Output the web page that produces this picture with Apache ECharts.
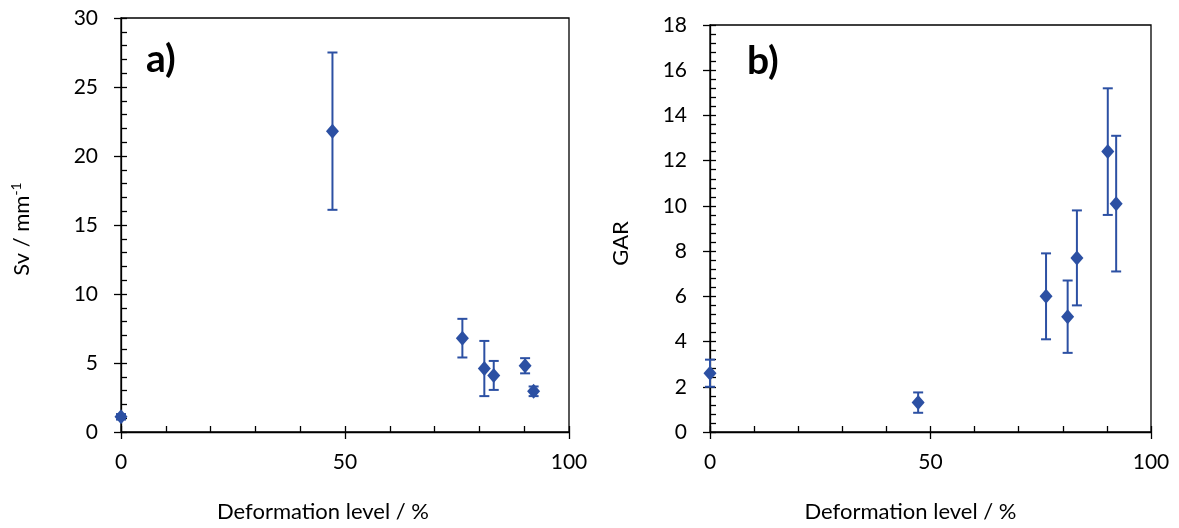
<!DOCTYPE html>
<html>
<head>
<meta charset="utf-8">
<script src="https://cdn.jsdelivr.net/npm/echarts@6/dist/echarts.min.js"></script>
<style>
html,body{margin:0;padding:0;background:#fff;}
#c{width:1179px;height:528px;}
</style>
</head>
<body>
<div id="c"></div>
<script>
// ---- data ----
const deformation = [0, 47.2, 76.2, 81.1, 83.2, 90.2, 92.1];
const sv = [1.1, 21.8, 6.8, 4.6, 4.1, 4.8, 2.95];
const svErr = [0.2, 5.7, 1.4, 2.0, 1.05, 0.55, 0.35];
const gar = [2.6, 1.3, 6.0, 5.1, 7.7, 12.4, 10.1];
const garErr = [0.6, 0.45, 1.9, 1.6, 2.1, 2.8, 3.0];
const xTicks = [0, 50, 100];
const svTicks = [0, 5, 10, 15, 20, 25, 30];
const garTicks = [0, 2, 4, 6, 8, 10, 12, 14, 16, 18];

const FONT = 'Lato';
const BLUE = '#2C50A3';
const chart = echarts.init(document.getElementById('c'));

function errData(y, e) {
  return deformation.map((x, i) => [x, y[i] - e[i], y[i] + e[i]]);
}
function errItem(params, api) {
  const x = api.value(0);
  const lo = api.coord([x, api.value(1)]);
  const hi = api.coord([x, api.value(2)]);
  const w = 5;
  const st = {stroke: BLUE, lineWidth: 2};
  return {type: 'group', children: [
    {type: 'line', shape: {x1: lo[0], y1: lo[1], x2: hi[0], y2: hi[1]}, style: st},
    {type: 'line', shape: {x1: lo[0] - w, y1: lo[1], x2: lo[0] + w, y2: lo[1]}, style: st},
    {type: 'line', shape: {x1: hi[0] - w, y1: hi[1], x2: hi[0] + w, y2: hi[1]}, style: st}
  ]};
}

const lineStyle = {color: '#000', width: 1.3};
function mainX(grid, pad) {
  return {
    type: 'value', gridIndex: grid, position: 'bottom', min: 0, max: 100, interval: 50,
    axisLine: {show: true, onZero: false, lineStyle},
    axisTick: {show: true, inside: true, length: 6, lineStyle},
    minorTick: {show: true, splitNumber: 5, length: 6, lineStyle},
    splitLine: {show: false},
    axisLabel: {fontFamily: FONT, fontSize: 21, color: '#000', margin: 20,
      formatter: v => xTicks.includes(v) ? String(v) : ''},
    name: 'Deformation level / %', nameLocation: 'middle', nameGap: 69,
    nameTextStyle: {fontFamily: FONT, fontSize: 22, color: '#000', padding: pad}
  };
}
function outX(grid) {
  return {
    type: 'value', gridIndex: grid, position: 'bottom', min: 0, max: 100, interval: 50,
    axisLine: {show: false, onZero: false},
    axisTick: {show: true, inside: false, length: 7, lineStyle},
    splitLine: {show: false}, axisLabel: {show: false}
  };
}
function mainY(grid, max, interval, ticks, name, gap, pad) {
  return {
    type: 'value', gridIndex: grid, position: 'left', min: 0, max, interval,
    axisLine: {show: true, onZero: false, lineStyle},
    axisTick: {show: true, inside: true, length: 6, lineStyle},
    minorTick: {show: true, splitNumber: 5, length: 6, lineStyle},
    splitLine: {show: false},
    axisLabel: {fontFamily: FONT, fontSize: 21, color: '#000', margin: 23,
      formatter: v => ticks.includes(v) ? String(v) : ''},
    name, nameLocation: 'middle', nameGap: gap,
    nameTextStyle: {fontFamily: FONT, fontSize: 22, color: '#000', padding: pad,
      rich: {
        a: {fontFamily: FONT, fontSize: 22, color: '#000', lineHeight: 26},
        s: {fontFamily: FONT, fontSize: 14, color: '#000', verticalAlign: 'top', lineHeight: 26}
      }}
  };
}
function outY(grid, max, interval) {
  return {
    type: 'value', gridIndex: grid, position: 'left', min: 0, max, interval,
    axisLine: {show: false, onZero: false},
    axisTick: {show: true, inside: false, length: 7, lineStyle},
    splitLine: {show: false}, axisLabel: {show: false}
  };
}

const option = {
  backgroundColor: '#fff',
  animation: false,
  grid: [
    {left: 121, top: 18, width: 448, height: 414, show: true, borderColor: '#000', borderWidth: 1.3, containLabel: false},
    {left: 710, top: 25, width: 441, height: 409, show: true, borderColor: '#000', borderWidth: 1.3, containLabel: false}
  ],
  xAxis: [mainX(0, [0, 44, 0, 0]), outX(0), mainX(1, [0, 40, 0, 0]), outX(1)],
  yAxis: [
    mainY(0, 30, 5, svTicks, '{a|Sv / mm}{s|-1}', 86, [0, 8, 0, 0]), outY(0, 30, 5),
    mainY(1, 18, 2, garTicks, 'GAR', 78, [0, 30, 0, 0]), outY(1, 18, 2)
  ],
  graphic: [
    {type: 'text', left: 146, top: 40, style: {text: 'a)', font: 'bold 39px ' + FONT, fill: '#000'}},
    {type: 'text', left: 747, top: 42, style: {text: 'b)', font: 'bold 39px ' + FONT, fill: '#000'}}
  ],
  series: [
    {type: 'custom', xAxisIndex: 0, yAxisIndex: 0, renderItem: errItem, data: errData(sv, svErr), z: 2},
    {type: 'scatter', xAxisIndex: 0, yAxisIndex: 0, symbol: 'diamond', symbolSize: [13, 15],
      itemStyle: {color: BLUE, opacity: 1}, data: deformation.map((x, i) => [x, sv[i]]), z: 3},
    {type: 'custom', xAxisIndex: 2, yAxisIndex: 2, renderItem: errItem, data: errData(gar, garErr), z: 2},
    {type: 'scatter', xAxisIndex: 2, yAxisIndex: 2, symbol: 'diamond', symbolSize: [13, 15],
      itemStyle: {color: BLUE, opacity: 1}, data: deformation.map((x, i) => [x, gar[i]]), z: 3}
  ]
};
chart.setOption(option);
</script>
</body>
</html>
